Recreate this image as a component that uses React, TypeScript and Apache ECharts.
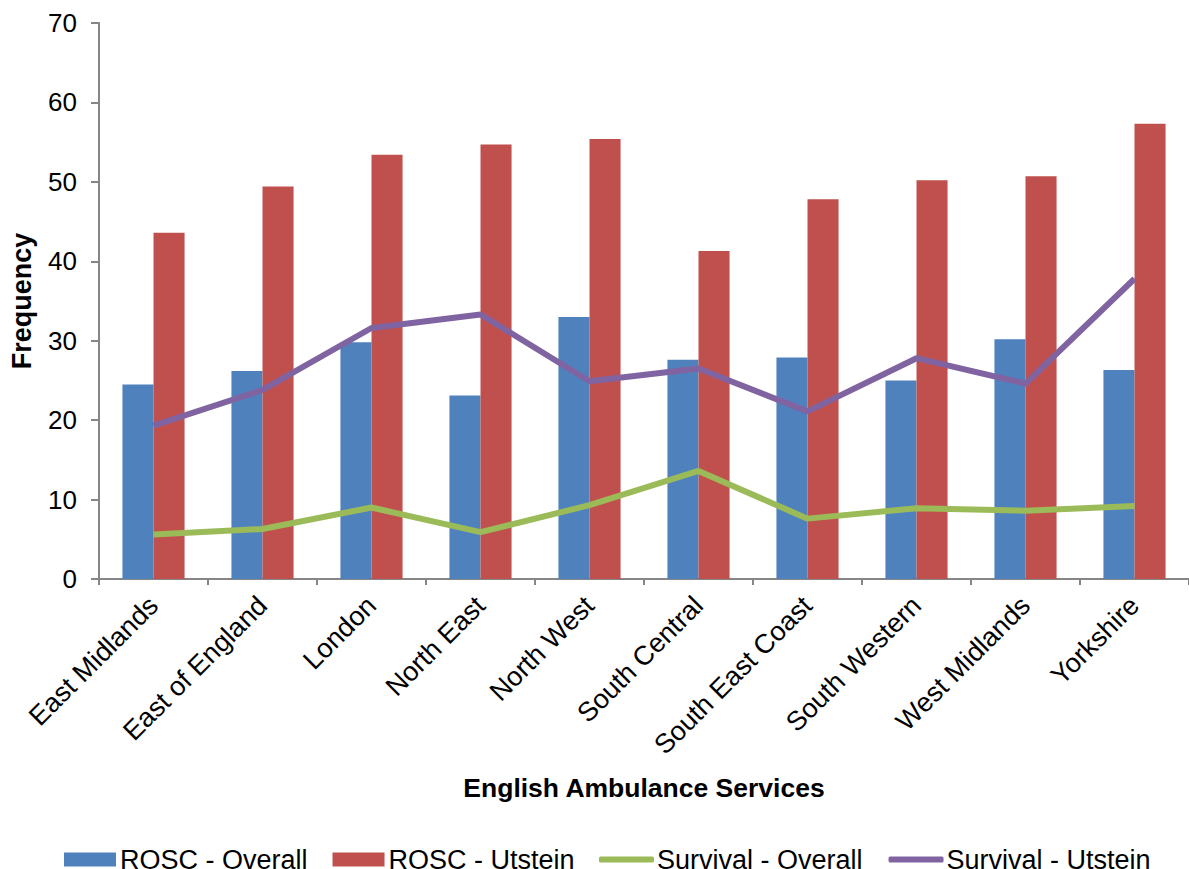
import React, { useEffect, useRef } from "react";
import * as echarts from "echarts";

const categories = [
  "East Midlands",
  "East of England",
  "London",
  "North East",
  "North West",
  "South Central",
  "South East Coast",
  "South Western",
  "West Midlands",
  "Yorkshire",
];
const roscOverall = [24.5, 26.2, 29.8, 23.1, 33.0, 27.6, 27.9, 25.0, 30.2, 26.3];
const roscUtstein = [43.6, 49.4, 53.4, 54.7, 55.4, 41.3, 47.8, 50.2, 50.7, 57.3];
const survivalOverall = [5.6, 6.3, 9.0, 5.9, 9.3, 13.6, 7.6, 8.9, 8.6, 9.2];
const survivalUtstein = [19.3, 23.8, 31.6, 33.3, 24.9, 26.5, 21.1, 27.8, 24.6, 37.8];
const yTicks = { min: 0, max: 70, interval: 10 };

const FONT = "'Liberation Sans', Arial, Helvetica, sans-serif";

export default function App() {
  const ref = useRef<HTMLDivElement>(null);
  useEffect(() => {
    if (!ref.current) return;
    const chart = echarts.init(ref.current, undefined, { renderer: "svg" });
    chart.setOption({
      animation: false,
      backgroundColor: "#ffffff",
      textStyle: { fontFamily: FONT },
      grid: { left: 97, top: 23, width: 1110, height: 556 },
      legend: [
        {
          data: ["ROSC - Overall", "ROSC - Utstein"],
          left: 64,
          top: 846,
          padding: 0,
          icon: "rect",
          itemWidth: 52,
          itemHeight: 14,
          itemGap: 25,
          textStyle: { fontSize: 27, lineHeight: 22, color: "#000", fontFamily: FONT, padding: [0, 0, 0, -1] },
        },
        {
          data: ["Survival - Overall", "Survival - Utstein"],
          left: 599,
          top: 846,
          padding: 0,
          icon: "roundRect",
          itemWidth: 55,
          itemHeight: 6,
          itemGap: 26,
          textStyle: { fontSize: 27, lineHeight: 22, color: "#000", fontFamily: FONT, padding: [0, 0, 0, -2] },
        },
      ],
      xAxis: {
        type: "category",
        data: categories,
        name: "English Ambulance Services",
        nameLocation: "middle",
        nameGap: 195,
        nameTextStyle: { fontSize: 26.5, fontWeight: "bold", color: "#000", fontFamily: FONT },
        axisLine: { lineStyle: { color: "#868686", width: 2 } },
        axisTick: { show: true, length: 6, lineStyle: { color: "#868686", width: 2 } },
        axisLabel: { rotate: 45, fontSize: 27, color: "#000", margin: 22, fontFamily: FONT },
        splitLine: { show: false },
      },
      yAxis: {
        type: "value",
        min: yTicks.min,
        max: yTicks.max,
        interval: yTicks.interval,
        name: "Frequency",
        nameLocation: "middle",
        nameGap: 64,
        nameTextStyle: { fontSize: 27, fontWeight: "bold", color: "#000", fontFamily: FONT },
        axisLine: { show: true, lineStyle: { color: "#868686", width: 2 } },
        axisTick: { show: true, length: 8, lineStyle: { color: "#868686", width: 2 } },
        axisLabel: { fontSize: 26, color: "#000", margin: 22, fontFamily: FONT },
        splitLine: { show: false },
      },
      series: [
        {
          name: "ROSC - Overall",
          type: "bar",
          data: roscOverall,
          barGap: "0%",
          barCategoryGap: "43%",
          itemStyle: { color: "#4F81BD" },
        },
        {
          name: "ROSC - Utstein",
          type: "bar",
          data: roscUtstein,
          itemStyle: { color: "#C0504D" },
        },
        {
          name: "Survival - Overall",
          type: "line",
          data: survivalOverall,
          symbol: "none",
          showSymbol: false,
          lineStyle: { color: "#9BBB59", width: 6 },
          itemStyle: { color: "#9BBB59" },
        },
        {
          name: "Survival - Utstein",
          type: "line",
          data: survivalUtstein,
          symbol: "none",
          showSymbol: false,
          lineStyle: { color: "#8064A2", width: 6 },
          itemStyle: { color: "#8064A2" },
        },
      ],
    });
    return () => chart.dispose();
  }, []);
  return (
    <div
      ref={ref}
      style={{ position: "fixed", left: 0, top: 0, width: 1189, height: 869 }}
    />
  );
}
